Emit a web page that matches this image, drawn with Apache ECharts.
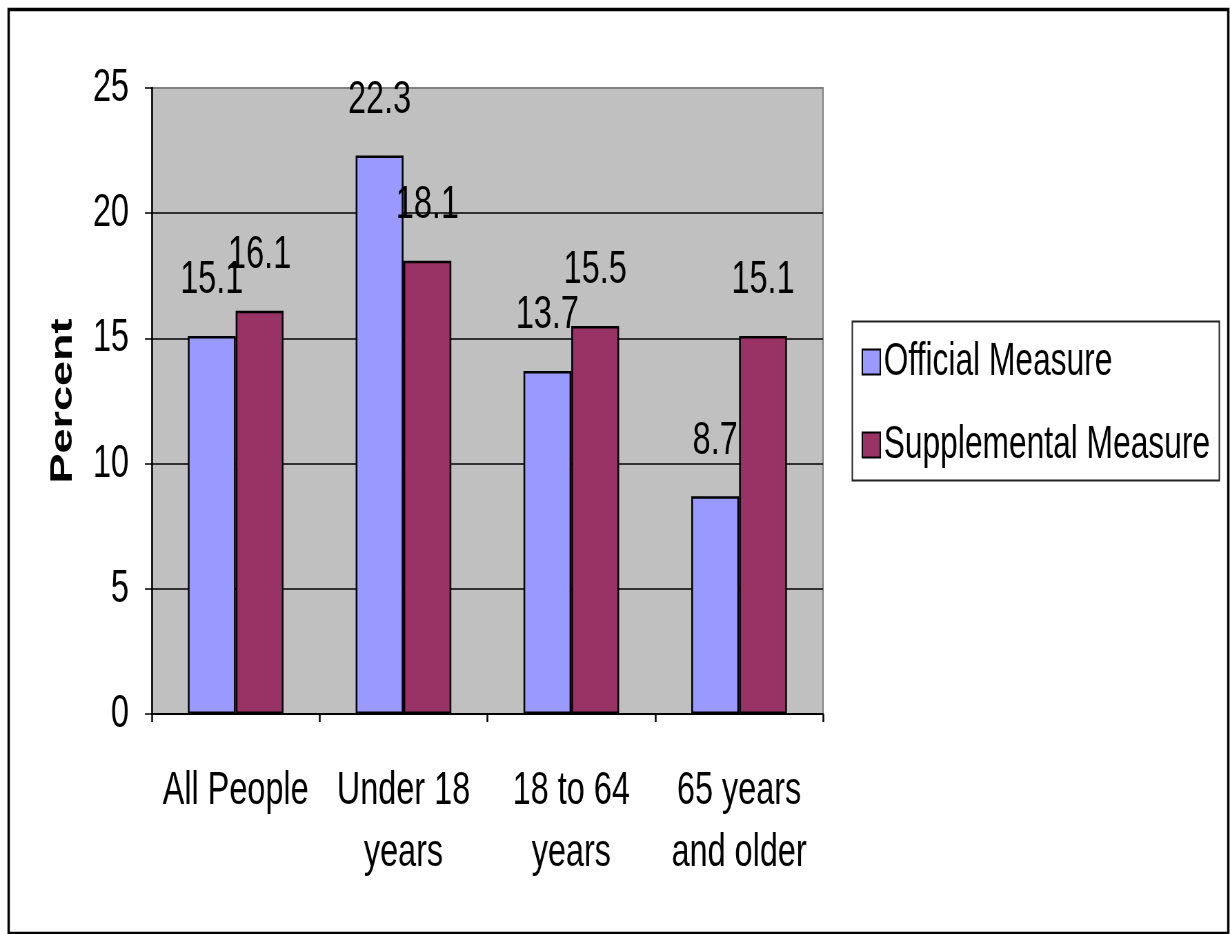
<!DOCTYPE html>
<html>
<head>
<meta charset="utf-8">
<title>Poverty rates: official and supplemental measures</title>
<script src="https://cdn.jsdelivr.net/npm/echarts@6/dist/echarts.min.js"></script>
<style>
  html, body { margin: 0; padding: 0; background: #ffffff; overflow: hidden; width: 1230px; height: 934px; }
  /* The chart is laid out on a wider canvas and compressed horizontally,
     which gives the tall, narrow lettering of the printed figure. */
  #chart { width: 1783px; height: 934px; transform: scaleX(0.68985); transform-origin: 0 0; }
</style>
</head>
<body>
<div id="chart"></div>
<script>
// Age groups along the horizontal axis
const categories = ['All People', 'Under 18\nyears', '18 to 64\nyears', '65 years\nand older'];
// Poverty rate, percent
const officialMeasure = [15.1, 22.3, 13.7, 8.7];
const supplementalMeasure = [16.1, 18.1, 15.5, 15.1];
const seriesNames = ['Official Measure', 'Supplemental Measure'];
const yTicks = { min: 0, max: 25, interval: 5 };

const font = "'Liberation Sans', Arial, sans-serif";

const chart = echarts.init(document.getElementById('chart'), null, { renderer: 'canvas' });

const barLabel = {
  show: true,
  position: 'top',
  distance: 32,
  color: '#000',
  fontFamily: font,
  fontSize: 47
};

chart.setOption({
  backgroundColor: '#ffffff',
  animation: false,
  graphic: [
    {
      // outer frame
      type: 'rect',
      left: 10, top: 7,
      shape: { width: 1768, height: 924 },
      style: { fill: 'none', stroke: '#000', lineWidth: 3.5 },
      silent: true,
      z: 100
    },
    {
      // legend frame
      type: 'rect',
      left: 1233, top: 319,
      shape: { width: 532, height: 159 },
      style: { fill: 'none', stroke: '#222', lineWidth: 2 },
      silent: true
    }
  ],
  grid: {
    left: 220, right: 590, top: 88, bottom: 220,
    show: true,
    backgroundColor: '#c0c0c0',
    borderColor: '#808080',
    borderWidth: 2
  },
  legend: {
    orient: 'vertical',
    left: 1249, top: 339,
    padding: 0,
    itemGap: 37,
    itemWidth: 26,
    itemHeight: 25,
    icon: 'rect',
    textStyle: { color: '#000', fontFamily: font, fontSize: 46 },
    data: seriesNames
  },
  xAxis: {
    type: 'category',
    data: categories,
    axisLine: { show: true, lineStyle: { color: '#000', width: 2 } },
    axisTick: { show: true, length: 8, lineStyle: { color: '#000', width: 2.5 } },
    axisLabel: {
      color: '#000', fontFamily: font, fontSize: 47, lineHeight: 62,
      margin: 46, interval: 0
    }
  },
  yAxis: {
    type: 'value',
    min: yTicks.min, max: yTicks.max, interval: yTicks.interval,
    name: 'Percent',
    nameLocation: 'middle',
    nameRotate: 90,
    nameGap: 106,
    nameTextStyle: { color: '#000', fontFamily: font, fontWeight: 'bold', fontSize: 45 },
    axisLine: { show: true, lineStyle: { color: '#000', width: 2.5 } },
    axisTick: { show: true, length: 10, lineStyle: { color: '#000', width: 1.5 } },
    axisLabel: { color: '#000', fontFamily: font, fontSize: 47, margin: 33 },
    splitLine: {
      show: true,
      lineStyle: { color: ['#000', '#000', '#000', '#000', '#000', '#808080'], width: 1.5 }
    }
  },
  series: [
    {
      name: seriesNames[0],
      type: 'bar',
      data: officialMeasure,
      barGap: '0%',
      barCategoryGap: '43%',
      itemStyle: { color: '#9999ff', borderColor: '#000', borderWidth: 2.5 },
      label: barLabel
    },
    {
      name: seriesNames[1],
      type: 'bar',
      data: supplementalMeasure,
      itemStyle: { color: '#993366', borderColor: '#000', borderWidth: 2.5 },
      label: barLabel
    }
  ]
});
</script>
</body>
</html>
